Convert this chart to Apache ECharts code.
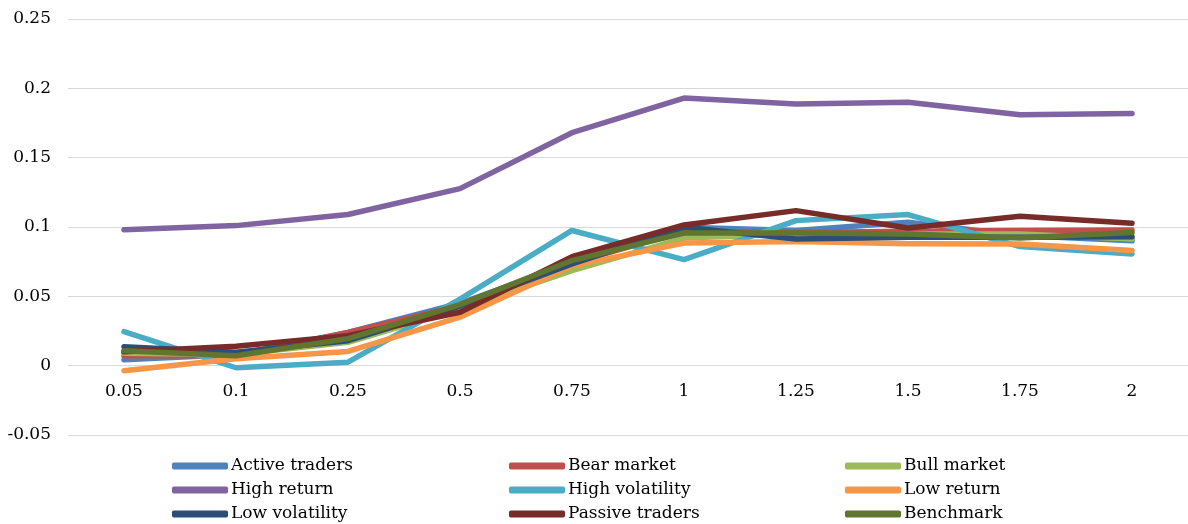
<!DOCTYPE html>
<html>
<head>
<meta charset="utf-8">
<script src="https://cdn.jsdelivr.net/npm/echarts@6/dist/echarts.min.js"></script>
<style>
  html, body { margin: 0; padding: 0; background: #ffffff; }
  #chart { width: 1188px; height: 524px; }
</style>
</head>
<body>
<div id="chart"></div>
<script>
// Horizon labels on the category axis
const categories = ['0.05', '0.1', '0.25', '0.5', '0.75', '1', '1.25', '1.5', '1.75', '2'];

// One array of values per scenario
const activeTraders  = [0.0043, 0.0080, 0.0240, 0.0450, 0.0740, 0.0998, 0.0974, 0.1034, 0.0938, 0.0900];
const bearMarket     = [0.0072, 0.0070, 0.0240, 0.0430, 0.0740, 0.0970, 0.0960, 0.0970, 0.0974, 0.0979];
const bullMarket     = [0.0090, 0.0080, 0.0168, 0.0410, 0.0685, 0.0920, 0.0950, 0.0950, 0.0950, 0.0914];
const highReturn     = [0.0981, 0.1010, 0.1090, 0.1277, 0.1680, 0.1930, 0.1887, 0.1900, 0.1810, 0.1818];
const highVolatility = [0.0245, -0.0015, 0.0025, 0.0480, 0.0975, 0.0765, 0.1046, 0.1090, 0.0859, 0.0806];
const lowReturn      = [-0.0036, 0.0050, 0.0103, 0.0350, 0.0720, 0.0885, 0.0895, 0.0880, 0.0878, 0.0830];
const lowVolatility  = [0.0137, 0.0096, 0.0180, 0.0430, 0.0734, 0.0998, 0.0914, 0.0926, 0.0926, 0.0930];
const passiveTraders = [0.0100, 0.0140, 0.0216, 0.0385, 0.0786, 0.1015, 0.1118, 0.0993, 0.1077, 0.1027];
const benchmark      = [0.0108, 0.0072, 0.0195, 0.0440, 0.0758, 0.0957, 0.0957, 0.0950, 0.0920, 0.0960];

// Value axis ticks
const yMin = -0.05, yMax = 0.25, yStep = 0.05;

const seriesDefs = [
  { name: 'Active traders',  data: activeTraders,  color: '#4F81BD' },
  { name: 'Bear market',     data: bearMarket,     color: '#C0504D' },
  { name: 'Bull market',     data: bullMarket,     color: '#9BBB59' },
  { name: 'High return',     data: highReturn,     color: '#8064A2' },
  { name: 'High volatility', data: highVolatility, color: '#4BACC6' },
  { name: 'Low return',      data: lowReturn,      color: '#F79646' },
  { name: 'Low volatility',  data: lowVolatility,  color: '#2C4D75' },
  { name: 'Passive traders', data: passiveTraders, color: '#772C2A' },
  { name: 'Benchmark',       data: benchmark,      color: '#5F7530' }
];

const FONT = 'DejaVu Serif';
const FONT_SIZE = 17;

const GRID_TOP = 19, GRID_HEIGHT = 416;

// Legend laid out as three columns of three entries
function legendColumn(names, left) {
  return {
    orient: 'vertical',
    left: left,
    top: 456,
    height: 80,
    itemGap: 4,
    itemWidth: 56,
    itemHeight: 7,
    icon: 'roundRect',
    padding: 0,
    textStyle: {
      fontFamily: FONT, fontSize: FONT_SIZE, color: '#000000',
      lineHeight: 20, padding: [0, 0, 0, -2]
    },
    data: names
  };
}

// Category labels sit just under the zero line
const zeroOffset = -GRID_HEIGHT * (0 - yMin) / (yMax - yMin);

const chart = echarts.init(document.getElementById('chart'), null, { renderer: 'canvas' });
chart.setOption({
  animation: false,
  backgroundColor: '#ffffff',
  color: seriesDefs.map(s => s.color),
  grid: { left: 68, top: GRID_TOP, width: 1124, height: GRID_HEIGHT, containLabel: false },
  legend: [
    legendColumn(['Active traders', 'High return', 'Low volatility'], 172),
    legendColumn(['Bear market', 'High volatility', 'Passive traders'], 509),
    legendColumn(['Bull market', 'Low return', 'Benchmark'], 845)
  ],
  xAxis: {
    type: 'category',
    data: categories,
    boundaryGap: true,
    position: 'bottom',
    offset: zeroOffset,
    axisLine: { show: false, onZero: false },
    axisTick: { show: false },
    axisLabel: { fontFamily: FONT, fontSize: FONT_SIZE, color: '#000000', margin: 17 },
    splitLine: { show: false }
  },
  yAxis: {
    type: 'value',
    min: yMin,
    max: yMax,
    interval: yStep,
    axisLine: { show: false },
    axisTick: { show: false },
    axisLabel: {
      fontFamily: FONT, fontSize: FONT_SIZE, color: '#000000', margin: 17,
      formatter: v => String(parseFloat(v.toFixed(2)))
    },
    splitLine: { show: true, lineStyle: { color: '#d9d9d9', width: 1 } }
  },
  series: seriesDefs.map((s, i) => ({
    name: s.name,
    type: 'line',
    data: s.data,
    z: 2 + i,
    symbol: 'none',
    smooth: false,
    lineStyle: { color: s.color, width: 5.5, cap: 'round', join: 'round' },
    itemStyle: { color: s.color }
  }))
});
</script>
</body>
</html>
